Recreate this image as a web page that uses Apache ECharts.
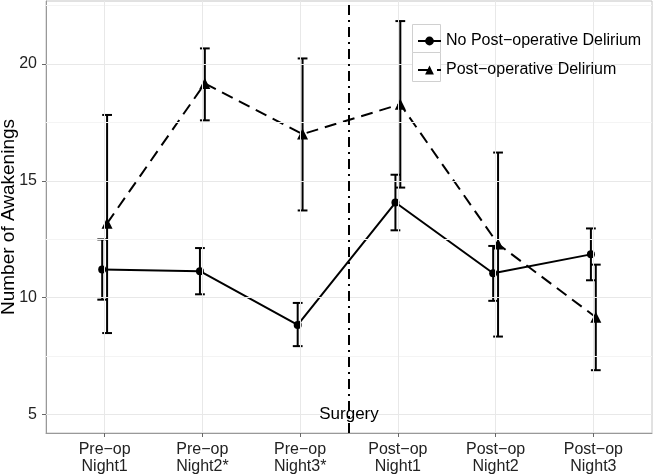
<!DOCTYPE html>
<html>
<head>
<meta charset="utf-8">
<script src="https://cdn.jsdelivr.net/npm/echarts@6/dist/echarts.min.js"></script>
<style>html,body{margin:0;padding:0;background:#fff}#c{width:653px;height:476px}</style>
</head>
<body>
<div id="c"></div>
<script>
const categories = ['Pre\u2212op\nNight1', 'Pre\u2212op\nNight2*', 'Pre\u2212op\nNight3*', 'Post\u2212op\nNight1', 'Post\u2212op\nNight2', 'Post\u2212op\nNight3'];
const seriesNames = ['No Post\u2212operative Delirium', 'Post\u2212operative Delirium'];
const noDelMean = [11.20, 11.13, 8.83, 14.07, 11.04, 11.85];
const noDelLow  = [9.91, 10.14, 7.92, 12.88, 9.86, 10.74];
const noDelHigh = [12.49, 12.12, 9.77, 15.26, 12.21, 12.96];
const delMean = [13.18, 19.17, 17.00, 18.28, 12.29, 9.16];
const delLow  = [8.48, 17.59, 13.73, 14.71, 8.33, 6.89];
const delHigh = [17.82, 20.67, 20.24, 21.84, 16.21, 11.41];
const yMajorTicks = [5, 10, 15, 20];
const yMinorTicks = [7.5, 12.5, 17.5, 22.5];
const xTicks = [1, 2, 3, 4, 5, 6];
const surgeryX = 3.5;
const surgeryLabelY = 5;
const dodge = 0.025;
const capHalf = 0.05;

const pos = (i, off) => xTicks[i] + off;
const noDelLine = noDelMean.map((v, i) => [pos(i, -dodge), v]);
const delLine = delMean.map((v, i) => [pos(i, dodge), v]);
const noDelErr = noDelMean.map((v, i) => [pos(i, -dodge), noDelLow[i], noDelHigh[i]]);
const delErr = delMean.map((v, i) => [pos(i, dodge), delLow[i], delHigh[i]]);

function errRender(params, api) {
  const x = api.value(0), lo = api.value(1), hi = api.value(2);
  const t = api.coord([x, hi]), b = api.coord([x, lo]);
  const l = api.coord([x - capHalf, hi])[0], r = api.coord([x + capHalf, hi])[0];
  const st = { stroke: '#000', lineWidth: 2 };
  return { type: 'group', children: [
    { type: 'line', shape: { x1: t[0], y1: t[1], x2: b[0], y2: b[1] }, style: st },
    { type: 'line', shape: { x1: l, y1: t[1], x2: r, y2: t[1] }, style: st },
    { type: 'line', shape: { x1: l, y1: b[1], x2: r, y2: b[1] }, style: st }
  ]};
}

const chart = echarts.init(document.getElementById('c'), null, { renderer: 'canvas' });
const font = 'Liberation Sans, Arial, Helvetica, sans-serif';
chart.setOption({
  animation: false,
  textStyle: { fontFamily: font },
  grid: { left: 46, right: 1, top: 1, bottom: 43, show: true, borderColor: '#c4c4c4', borderWidth: 1, backgroundColor: '#fff',
    containLabel: false, outerBoundsMode: 'none' },
  xAxis: {
    type: 'value', min: 0.4, max: 6.6,
    axisLine: { show: true, lineStyle: { color: '#999', width: 1 } },
    axisTick: { show: true, length: 4, lineStyle: { color: '#666' }, customValues: xTicks },
    axisLabel: { customValues: xTicks, color: '#222', fontSize: 16, lineHeight: 17, margin: 8, fontFamily: font,
      formatter: v => categories[Math.round(v) - 1] },
    splitLine: { show: false }
  },
  yAxis: {
    type: 'value', min: 4.2, max: 22.7,
    name: 'Number of Awakenings', nameLocation: 'middle', nameRotate: 90, nameGap: 28, nameMoveOverlap: false,
    nameTextStyle: { fontSize: 19, color: '#000', fontFamily: font },
    axisLine: { show: true, lineStyle: { color: '#999', width: 1 } },
    axisTick: { show: true, length: 4, lineStyle: { color: '#666' }, customValues: yMajorTicks },
    axisLabel: { customValues: yMajorTicks, color: '#222', fontSize: 16, margin: 9, fontFamily: font },
    splitLine: { show: false }
  },
  legend: {
    data: seriesNames.map(n => ({ name: n })),
    orient: 'vertical', left: 417, top: 33, padding: 0, itemWidth: 23, itemHeight: 11, itemGap: 13,
    textStyle: { fontSize: 16, color: '#000', fontFamily: font, lineHeight: 16 },
    z: 10
  },
  graphic: [
    { type: 'rect', z: 5, shape: { x: 408, y: 16, width: 238, height: 73 }, style: { fill: '#fff' } },
    { type: 'rect', z: 6, shape: { x: 412.5, y: 24.5, width: 28, height: 28 }, style: { fill: '#fff', stroke: '#d0d0d0', lineWidth: 1 } },
    { type: 'rect', z: 6, shape: { x: 412.5, y: 52.5, width: 28, height: 29 }, style: { fill: '#fff', stroke: '#d0d0d0', lineWidth: 1 } }
  ],
  series: [
    { type: 'line', name: '_grid', data: [], silent: true, z: 1,
      markLine: { silent: true, symbol: 'none', label: { show: false }, animation: false,
        data: [
          ...yMinorTicks.map(v => ({ yAxis: v, lineStyle: { color: '#f4f4f4', width: 1, type: 'solid' } })),
          ...yMajorTicks.map(v => ({ yAxis: v, lineStyle: { color: '#e8e8e8', width: 1, type: 'solid' } })),
          ...xTicks.map(v => ({ xAxis: v, lineStyle: { color: '#e8e8e8', width: 1, type: 'solid' } }))
        ] } },
    { type: 'line', name: '_surgery', data: [], silent: true, z: 3,
      markLine: { silent: true, symbol: 'none', label: { show: false }, animation: false,
        data: [{ xAxis: surgeryX, lineStyle: { color: '#000', width: 2, type: [10, 5, 2, 5] } }] } },
    { type: 'scatter', name: '_label', data: [[surgeryX, surgeryLabelY]], symbolSize: 1, itemStyle: { color: 'rgba(0,0,0,0)' }, silent: true, z: 5,
      label: { show: true, position: 'inside', formatter: 'Surgery', fontSize: 17, color: '#000', fontFamily: font, textBorderWidth: 0, opacity: 1 } },
    { type: 'custom', name: '_err1', data: noDelErr, renderItem: errRender, encode: { x: 0, y: [1, 2] }, z: 3 },
    { type: 'custom', name: '_err2', data: delErr, renderItem: errRender, encode: { x: 0, y: [1, 2] }, z: 3 },
    { type: 'line', name: seriesNames[0], data: noDelLine, symbol: 'circle', symbolSize: 8, showAllSymbol: true,
      lineStyle: { color: '#000', width: 2, type: 'solid' }, itemStyle: { color: '#000' }, z: 4 },
    { type: 'line', name: seriesNames[1], data: delLine, symbol: 'triangle', symbolSize: 11, showAllSymbol: true,
      lineStyle: { color: '#000', width: 2, type: [12, 7] }, itemStyle: { color: '#000' }, z: 4 }
  ]
});
</script>
</body>
</html>
